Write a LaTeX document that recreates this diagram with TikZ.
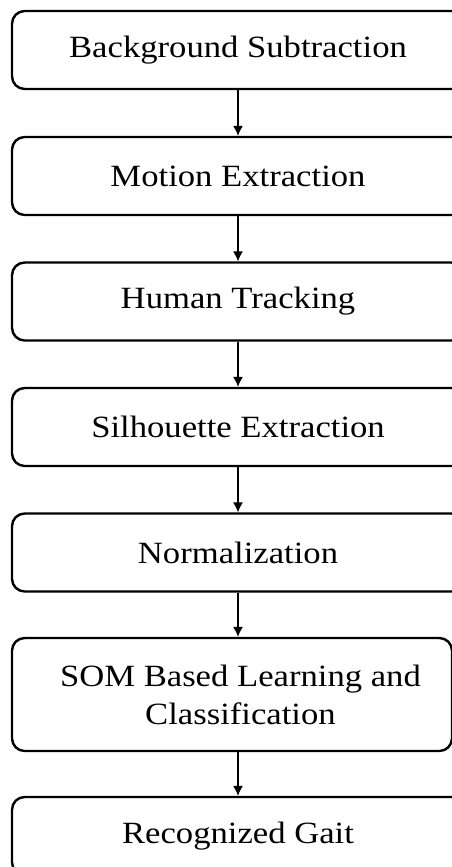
\documentclass[tikz,border=0pt]{standalone}
\usepackage{fontspec}
\setmainfont[FakeStretch=1.12]{Liberation Serif}
\usepackage{xcolor}
\usetikzlibrary{arrows.meta}

\begin{document}
\begin{tikzpicture}[x=0.025cm, y=-0.025cm,
  stagebox/.style={rectangle, rounded corners=9pt, draw=black, line width=1.7pt,
    minimum width=452*0.025cm, minimum height=78*0.025cm, align=center,
    font=\fontsize{22pt}{27pt}\selectfont},
  flow/.style={draw, line width=0.8pt, -{Latex[length=7pt,width=7pt]}}]
\useasboundingbox (0,0) rectangle (452,867);
\clip (0,0) rectangle (452,867);
\node[stagebox] (bgsub) at (238,50) {Background Subtraction};
\node[stagebox] (motion) at (238,176) {Motion Extraction};
\node[stagebox] (track) at (238,301.5) {Human Tracking};
\node[stagebox] (silh) at (238,427) {Silhouette Extraction};
\node[stagebox] (norm) at (238,552.5) {Normalization};
\node[stagebox, minimum width=440*0.025cm, minimum height=113*0.025cm, xshift=-6*0.025cm] (som) at (238,694.5) {\hspace*{12pt}SOM Based Learning and\\\hspace*{12pt}Classification};
\node[stagebox] (gait) at (238,836) {Recognized Gait};
\draw[flow] (bgsub) -- (motion);
\draw[flow] (motion) -- (track);
\draw[flow] (track) -- (silh);
\draw[flow] (silh) -- (norm);
\draw[flow] (norm.south -| bgsub) -- (som.north -| bgsub);
\draw[flow] (som.south -| bgsub) -- (gait);
\end{tikzpicture}
\end{document}
